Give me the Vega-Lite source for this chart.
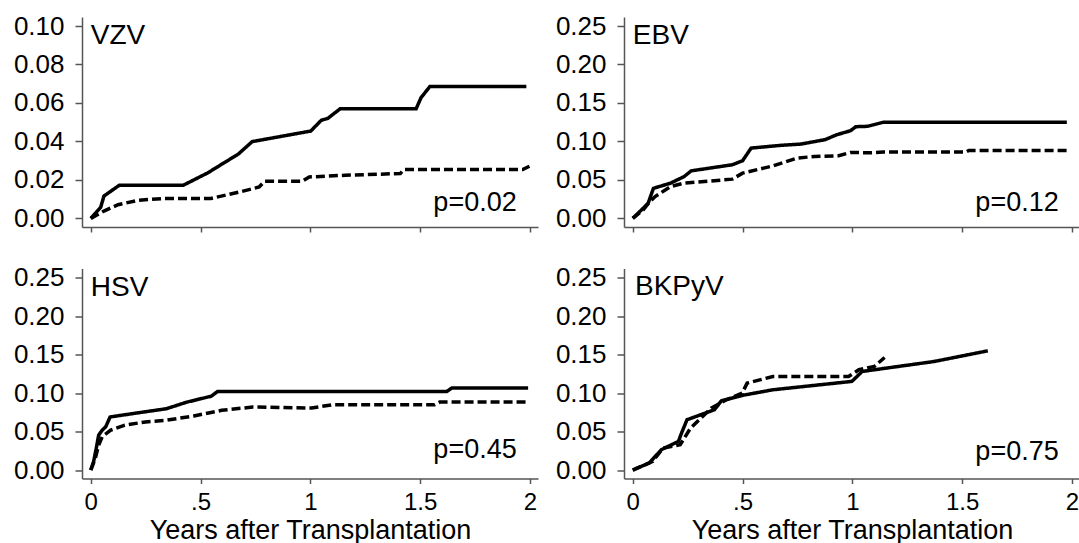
{
  "$schema": "https://vega.github.io/schema/vega-lite/v6.json",
  "padding": {"left": 13, "top": 12, "right": 0, "bottom": 0},
  "background": "white",
  "config": {
    "view": {"stroke": null},
    "font": "Liberation Sans",
    "axis": {
      "grid": false,
      "domainColor": "#555555",
      "domainWidth": 1.5,
      "tickColor": "#555555",
      "tickWidth": 1.5,
      "labelColor": "black",
      "labelFont": "Liberation Sans",
      "labelFontSize": 26,
      "titleFont": "Liberation Sans",
      "titleFontSize": 27,
      "titleFontWeight": "normal",
      "titleColor": "black"
    }
  },
  "datasets": {
    "curves": [
      {"virus": "VZV", "group": "Group 1", "t": 0, "v": 0},
      {"virus": "VZV", "group": "Group 1", "t": 0.045, "v": 0.0057},
      {"virus": "VZV", "group": "Group 1", "t": 0.06, "v": 0.0116},
      {"virus": "VZV", "group": "Group 1", "t": 0.13, "v": 0.0172},
      {"virus": "VZV", "group": "Group 1", "t": 0.421, "v": 0.0172},
      {"virus": "VZV", "group": "Group 1", "t": 0.532, "v": 0.0236},
      {"virus": "VZV", "group": "Group 1", "t": 0.673, "v": 0.0335},
      {"virus": "VZV", "group": "Group 1", "t": 0.735, "v": 0.0399},
      {"virus": "VZV", "group": "Group 1", "t": 1.002, "v": 0.0454},
      {"virus": "VZV", "group": "Group 1", "t": 1.05, "v": 0.051},
      {"virus": "VZV", "group": "Group 1", "t": 1.08, "v": 0.052},
      {"virus": "VZV", "group": "Group 1", "t": 1.136, "v": 0.057},
      {"virus": "VZV", "group": "Group 1", "t": 1.482, "v": 0.057},
      {"virus": "VZV", "group": "Group 1", "t": 1.504, "v": 0.0627},
      {"virus": "VZV", "group": "Group 1", "t": 1.544, "v": 0.0685},
      {"virus": "VZV", "group": "Group 1", "t": 1.984, "v": 0.0685},
      {"virus": "VZV", "group": "Group 2", "t": 0, "v": 0},
      {"virus": "VZV", "group": "Group 2", "t": 0.06, "v": 0.0038},
      {"virus": "VZV", "group": "Group 2", "t": 0.124, "v": 0.0071},
      {"virus": "VZV", "group": "Group 2", "t": 0.218, "v": 0.0094},
      {"virus": "VZV", "group": "Group 2", "t": 0.328, "v": 0.0103},
      {"virus": "VZV", "group": "Group 2", "t": 0.547, "v": 0.0103},
      {"virus": "VZV", "group": "Group 2", "t": 0.688, "v": 0.014},
      {"virus": "VZV", "group": "Group 2", "t": 0.767, "v": 0.0163},
      {"virus": "VZV", "group": "Group 2", "t": 0.791, "v": 0.0193},
      {"virus": "VZV", "group": "Group 2", "t": 0.963, "v": 0.0193},
      {"virus": "VZV", "group": "Group 2", "t": 0.995, "v": 0.0215},
      {"virus": "VZV", "group": "Group 2", "t": 1.159, "v": 0.0224},
      {"virus": "VZV", "group": "Group 2", "t": 1.41, "v": 0.0233},
      {"virus": "VZV", "group": "Group 2", "t": 1.426, "v": 0.0254},
      {"virus": "VZV", "group": "Group 2", "t": 1.967, "v": 0.0254},
      {"virus": "VZV", "group": "Group 2", "t": 1.998, "v": 0.0271},
      {"virus": "EBV", "group": "Group 1", "t": 0, "v": 0},
      {"virus": "EBV", "group": "Group 1", "t": 0.047, "v": 0.013},
      {"virus": "EBV", "group": "Group 1", "t": 0.07, "v": 0.0196},
      {"virus": "EBV", "group": "Group 1", "t": 0.094, "v": 0.039},
      {"virus": "EBV", "group": "Group 1", "t": 0.172, "v": 0.0457},
      {"virus": "EBV", "group": "Group 1", "t": 0.234, "v": 0.0543},
      {"virus": "EBV", "group": "Group 1", "t": 0.266, "v": 0.0617},
      {"virus": "EBV", "group": "Group 1", "t": 0.453, "v": 0.0696},
      {"virus": "EBV", "group": "Group 1", "t": 0.5, "v": 0.0748},
      {"virus": "EBV", "group": "Group 1", "t": 0.539, "v": 0.0913},
      {"virus": "EBV", "group": "Group 1", "t": 0.672, "v": 0.0948},
      {"virus": "EBV", "group": "Group 1", "t": 0.766, "v": 0.0965},
      {"virus": "EBV", "group": "Group 1", "t": 0.875, "v": 0.1022},
      {"virus": "EBV", "group": "Group 1", "t": 0.93, "v": 0.1087},
      {"virus": "EBV", "group": "Group 1", "t": 0.992, "v": 0.1139},
      {"virus": "EBV", "group": "Group 1", "t": 1.016, "v": 0.1191},
      {"virus": "EBV", "group": "Group 1", "t": 1.07, "v": 0.1196},
      {"virus": "EBV", "group": "Group 1", "t": 1.141, "v": 0.1248},
      {"virus": "EBV", "group": "Group 1", "t": 1.977, "v": 0.1248},
      {"virus": "EBV", "group": "Group 2", "t": 0, "v": 0},
      {"virus": "EBV", "group": "Group 2", "t": 0.047, "v": 0.0109},
      {"virus": "EBV", "group": "Group 2", "t": 0.078, "v": 0.0217},
      {"virus": "EBV", "group": "Group 2", "t": 0.102, "v": 0.0283},
      {"virus": "EBV", "group": "Group 2", "t": 0.172, "v": 0.0413},
      {"virus": "EBV", "group": "Group 2", "t": 0.234, "v": 0.0457},
      {"virus": "EBV", "group": "Group 2", "t": 0.453, "v": 0.0509},
      {"virus": "EBV", "group": "Group 2", "t": 0.5, "v": 0.0587},
      {"virus": "EBV", "group": "Group 2", "t": 0.641, "v": 0.0683},
      {"virus": "EBV", "group": "Group 2", "t": 0.75, "v": 0.0783},
      {"virus": "EBV", "group": "Group 2", "t": 0.828, "v": 0.0804},
      {"virus": "EBV", "group": "Group 2", "t": 0.938, "v": 0.0813},
      {"virus": "EBV", "group": "Group 2", "t": 0.992, "v": 0.0857},
      {"virus": "EBV", "group": "Group 2", "t": 1.078, "v": 0.0852},
      {"virus": "EBV", "group": "Group 2", "t": 1.141, "v": 0.0861},
      {"virus": "EBV", "group": "Group 2", "t": 1.516, "v": 0.0861},
      {"virus": "EBV", "group": "Group 2", "t": 1.531, "v": 0.0883},
      {"virus": "EBV", "group": "Group 2", "t": 1.977, "v": 0.0883},
      {"virus": "HSV", "group": "Group 1", "t": 0, "v": 0},
      {"virus": "HSV", "group": "Group 1", "t": 0.013, "v": 0.0111},
      {"virus": "HSV", "group": "Group 1", "t": 0.025, "v": 0.0283},
      {"virus": "HSV", "group": "Group 1", "t": 0.036, "v": 0.0454},
      {"virus": "HSV", "group": "Group 1", "t": 0.052, "v": 0.0518},
      {"virus": "HSV", "group": "Group 1", "t": 0.068, "v": 0.0561},
      {"virus": "HSV", "group": "Group 1", "t": 0.088, "v": 0.0689},
      {"virus": "HSV", "group": "Group 1", "t": 0.139, "v": 0.0711},
      {"virus": "HSV", "group": "Group 1", "t": 0.344, "v": 0.0796},
      {"virus": "HSV", "group": "Group 1", "t": 0.438, "v": 0.0882},
      {"virus": "HSV", "group": "Group 1", "t": 0.549, "v": 0.0959},
      {"virus": "HSV", "group": "Group 1", "t": 0.577, "v": 0.1019},
      {"virus": "HSV", "group": "Group 1", "t": 1.621, "v": 0.1019},
      {"virus": "HSV", "group": "Group 1", "t": 1.645, "v": 0.1066},
      {"virus": "HSV", "group": "Group 1", "t": 1.992, "v": 0.1066},
      {"virus": "HSV", "group": "Group 2", "t": 0, "v": 0},
      {"virus": "HSV", "group": "Group 2", "t": 0.021, "v": 0.0154},
      {"virus": "HSV", "group": "Group 2", "t": 0.036, "v": 0.0325},
      {"virus": "HSV", "group": "Group 2", "t": 0.052, "v": 0.0432},
      {"virus": "HSV", "group": "Group 2", "t": 0.091, "v": 0.0518},
      {"virus": "HSV", "group": "Group 2", "t": 0.155, "v": 0.0582},
      {"virus": "HSV", "group": "Group 2", "t": 0.249, "v": 0.0625},
      {"virus": "HSV", "group": "Group 2", "t": 0.344, "v": 0.0646},
      {"virus": "HSV", "group": "Group 2", "t": 0.47, "v": 0.0702},
      {"virus": "HSV", "group": "Group 2", "t": 0.596, "v": 0.0775},
      {"virus": "HSV", "group": "Group 2", "t": 0.738, "v": 0.0818},
      {"virus": "HSV", "group": "Group 2", "t": 1.006, "v": 0.0805},
      {"virus": "HSV", "group": "Group 2", "t": 1.101, "v": 0.0848},
      {"virus": "HSV", "group": "Group 2", "t": 1.566, "v": 0.0848},
      {"virus": "HSV", "group": "Group 2", "t": 1.59, "v": 0.0882},
      {"virus": "HSV", "group": "Group 2", "t": 1.992, "v": 0.0882},
      {"virus": "BKPyV", "group": "Group 1", "t": 0, "v": 0},
      {"virus": "BKPyV", "group": "Group 1", "t": 0.075, "v": 0.0091},
      {"virus": "BKPyV", "group": "Group 1", "t": 0.13, "v": 0.0264},
      {"virus": "BKPyV", "group": "Group 1", "t": 0.208, "v": 0.0372},
      {"virus": "BKPyV", "group": "Group 1", "t": 0.219, "v": 0.0458},
      {"virus": "BKPyV", "group": "Group 1", "t": 0.247, "v": 0.0653},
      {"virus": "BKPyV", "group": "Group 1", "t": 0.372, "v": 0.0783},
      {"virus": "BKPyV", "group": "Group 1", "t": 0.404, "v": 0.09},
      {"virus": "BKPyV", "group": "Group 1", "t": 0.498, "v": 0.0969},
      {"virus": "BKPyV", "group": "Group 1", "t": 0.638, "v": 0.1042},
      {"virus": "BKPyV", "group": "Group 1", "t": 0.998, "v": 0.1151},
      {"virus": "BKPyV", "group": "Group 1", "t": 1.045, "v": 0.128},
      {"virus": "BKPyV", "group": "Group 1", "t": 1.374, "v": 0.141},
      {"virus": "BKPyV", "group": "Group 1", "t": 1.617, "v": 0.1548},
      {"virus": "BKPyV", "group": "Group 2", "t": 0, "v": 0},
      {"virus": "BKPyV", "group": "Group 2", "t": 0.091, "v": 0.0112},
      {"virus": "BKPyV", "group": "Group 2", "t": 0.138, "v": 0.0285},
      {"virus": "BKPyV", "group": "Group 2", "t": 0.216, "v": 0.0329},
      {"virus": "BKPyV", "group": "Group 2", "t": 0.263, "v": 0.0545},
      {"virus": "BKPyV", "group": "Group 2", "t": 0.357, "v": 0.0804},
      {"virus": "BKPyV", "group": "Group 2", "t": 0.427, "v": 0.0913},
      {"virus": "BKPyV", "group": "Group 2", "t": 0.498, "v": 0.0999},
      {"virus": "BKPyV", "group": "Group 2", "t": 0.521, "v": 0.1129},
      {"virus": "BKPyV", "group": "Group 2", "t": 0.638, "v": 0.1215},
      {"virus": "BKPyV", "group": "Group 2", "t": 0.983, "v": 0.1215},
      {"virus": "BKPyV", "group": "Group 2", "t": 1.03, "v": 0.1302},
      {"virus": "BKPyV", "group": "Group 2", "t": 1.1, "v": 0.1345},
      {"virus": "BKPyV", "group": "Group 2", "t": 1.147, "v": 0.1462}
    ],
    "labels": [
      {"virus": "VZV", "p": "p=0.02"},
      {"virus": "EBV", "p": "p=0.12"},
      {"virus": "HSV", "p": "p=0.45"},
      {"virus": "BKPyV", "p": "p=0.75"}
    ]
  },
  "columns": 2,
  "spacing": {"row": 41.5, "column": 86},
  "bounds": "flush",
  "concat": [
    {
      "width": 456, "height": 210,
      "layer": [
        {
          "data": {"name": "curves"},
          "transform": [{"filter": "datum.virus == 'VZV'"}],
          "mark": {"type": "line", "color": "black", "strokeWidth": 3.5},
          "encoding": {
            "x": {"field": "t", "type": "quantitative", "scale": {"domain": [-0.04, 2.037], "nice": false, "zero": false},
                  "axis": {"values": [0, 0.5, 1, 1.5, 2], "labels": false, "title": null, "tickSize": 5}},
            "y": {"field": "v", "type": "quantitative", "scale": {"domain": [-0.0045, 0.1047], "nice": false, "zero": false},
                  "axis": {"values": [0, 0.02, 0.04, 0.06, 0.08, 0.1], "format": ".2f", "title": null, "tickSize": 7, "labelPadding": 11}},
            "strokeDash": {"field": "group", "type": "nominal", "scale": {"domain": ["Group 1", "Group 2"], "range": [[1, 0], [9, 4]]}, "legend": null}
          }
        },
        {
          "data": {"name": "labels"},
          "transform": [{"filter": "datum.virus == 'VZV'"}],
          "mark": {"type": "text", "align": "left", "baseline": "alphabetic", "fontSize": 28, "color": "black", "font": "Liberation Sans"},
          "encoding": {"x": {"datum": 0}, "y": {"datum": 0.0905}, "text": {"field": "virus"}}
        },
        {
          "data": {"name": "labels"},
          "transform": [{"filter": "datum.virus == 'VZV'"}],
          "mark": {"type": "text", "align": "right", "baseline": "alphabetic", "fontSize": 27, "color": "black", "font": "Liberation Sans"},
          "encoding": {"x": {"datum": 1.94}, "y": {"datum": 0.004}, "text": {"field": "p"}}
        }
      ]
    },
    {
      "width": 456, "height": 210,
      "layer": [
        {
          "data": {"name": "curves"},
          "transform": [{"filter": "datum.virus == 'EBV'"}],
          "mark": {"type": "line", "color": "black", "strokeWidth": 3.5},
          "encoding": {
            "x": {"field": "t", "type": "quantitative", "scale": {"domain": [-0.04, 2.037], "nice": false, "zero": false},
                  "axis": {"values": [0, 0.5, 1, 1.5, 2], "labels": false, "title": null, "tickSize": 5}},
            "y": {"field": "v", "type": "quantitative", "scale": {"domain": [-0.0113, 0.2617], "nice": false, "zero": false},
                  "axis": {"values": [0, 0.05, 0.1, 0.15, 0.2, 0.25], "format": ".2f", "title": null, "tickSize": 7, "labelPadding": 11}},
            "strokeDash": {"field": "group", "type": "nominal", "scale": {"domain": ["Group 1", "Group 2"], "range": [[1, 0], [9, 4]]}, "legend": null}
          }
        },
        {
          "data": {"name": "labels"},
          "transform": [{"filter": "datum.virus == 'EBV'"}],
          "mark": {"type": "text", "align": "left", "baseline": "alphabetic", "fontSize": 28, "color": "black", "font": "Liberation Sans"},
          "encoding": {"x": {"datum": 0}, "y": {"datum": 0.226}, "text": {"field": "virus"}}
        },
        {
          "data": {"name": "labels"},
          "transform": [{"filter": "datum.virus == 'EBV'"}],
          "mark": {"type": "text", "align": "right", "baseline": "alphabetic", "fontSize": 27, "color": "black", "font": "Liberation Sans"},
          "encoding": {"x": {"datum": 1.94}, "y": {"datum": 0.009}, "text": {"field": "p"}}
        }
      ]
    },
    {
      "width": 456, "height": 210,
      "layer": [
        {
          "data": {"name": "curves"},
          "transform": [{"filter": "datum.virus == 'HSV'"}],
          "mark": {"type": "line", "color": "black", "strokeWidth": 3.5},
          "encoding": {
            "x": {"field": "t", "type": "quantitative", "scale": {"domain": [-0.04, 2.037], "nice": false, "zero": false},
                  "axis": {"values": [0, 0.5, 1, 1.5, 2], "labelExpr": "datum.value == 0 ? '0' : datum.value == 0.5 ? '.5' : datum.value == 1 ? '1' : datum.value == 1.5 ? '1.5' : '2'", "title": "Years after Transplantation", "labelFontSize": 24, "tickSize": 5, "labelPadding": 7, "titlePadding": 3}},
            "y": {"field": "v", "type": "quantitative", "scale": {"domain": [-0.011, 0.2617], "nice": false, "zero": false},
                  "axis": {"values": [0, 0.05, 0.1, 0.15, 0.2, 0.25], "format": ".2f", "title": null, "tickSize": 7, "labelPadding": 11}},
            "strokeDash": {"field": "group", "type": "nominal", "scale": {"domain": ["Group 1", "Group 2"], "range": [[1, 0], [9, 4]]}, "legend": null}
          }
        },
        {
          "data": {"name": "labels"},
          "transform": [{"filter": "datum.virus == 'HSV'"}],
          "mark": {"type": "text", "align": "left", "baseline": "alphabetic", "fontSize": 28, "color": "black", "font": "Liberation Sans"},
          "encoding": {"x": {"datum": 0}, "y": {"datum": 0.226}, "text": {"field": "virus"}}
        },
        {
          "data": {"name": "labels"},
          "transform": [{"filter": "datum.virus == 'HSV'"}],
          "mark": {"type": "text", "align": "right", "baseline": "alphabetic", "fontSize": 27, "color": "black", "font": "Liberation Sans"},
          "encoding": {"x": {"datum": 1.94}, "y": {"datum": 0.015}, "text": {"field": "p"}}
        }
      ]
    },
    {
      "width": 456, "height": 210,
      "layer": [
        {
          "data": {"name": "curves"},
          "transform": [{"filter": "datum.virus == 'BKPyV'"}],
          "mark": {"type": "line", "color": "black", "strokeWidth": 3.5},
          "encoding": {
            "x": {"field": "t", "type": "quantitative", "scale": {"domain": [-0.04, 2.037], "nice": false, "zero": false},
                  "axis": {"values": [0, 0.5, 1, 1.5, 2], "labelExpr": "datum.value == 0 ? '0' : datum.value == 0.5 ? '.5' : datum.value == 1 ? '1' : datum.value == 1.5 ? '1.5' : '2'", "title": "Years after Transplantation", "labelFontSize": 24, "tickSize": 5, "labelPadding": 7, "titlePadding": 3}},
            "y": {"field": "v", "type": "quantitative", "scale": {"domain": [-0.011, 0.2617], "nice": false, "zero": false},
                  "axis": {"values": [0, 0.05, 0.1, 0.15, 0.2, 0.25], "format": ".2f", "title": null, "tickSize": 7, "labelPadding": 11}},
            "strokeDash": {"field": "group", "type": "nominal", "scale": {"domain": ["Group 1", "Group 2"], "range": [[1, 0], [9, 4]]}, "legend": null}
          }
        },
        {
          "data": {"name": "labels"},
          "transform": [{"filter": "datum.virus == 'BKPyV'"}],
          "mark": {"type": "text", "align": "left", "baseline": "alphabetic", "fontSize": 28, "color": "black", "font": "Liberation Sans"},
          "encoding": {"x": {"datum": 0.01}, "y": {"datum": 0.227}, "text": {"field": "virus"}}
        },
        {
          "data": {"name": "labels"},
          "transform": [{"filter": "datum.virus == 'BKPyV'"}],
          "mark": {"type": "text", "align": "right", "baseline": "alphabetic", "fontSize": 27, "color": "black", "font": "Liberation Sans"},
          "encoding": {"x": {"datum": 1.94}, "y": {"datum": 0.013}, "text": {"field": "p"}}
        }
      ]
    }
  ]
}
